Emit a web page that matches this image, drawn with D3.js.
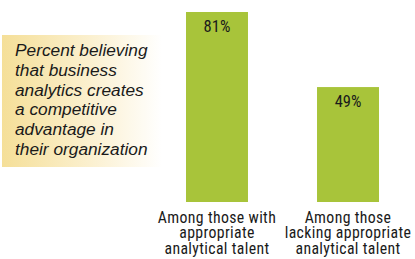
<!DOCTYPE html>
<html><head><meta charset="utf-8">
<script src="https://cdn.jsdelivr.net/npm/d3@7"></script>
<style>
html,body{margin:0;padding:0;background:#fff;}
svg{display:block;}
.cond{font-family:"Liberation Sans Narrow","Roboto Condensed","Arial Narrow",Roboto,sans-serif;font-stretch:condensed;}
</style></head>
<body>
<svg id="c" width="415" height="259"></svg>
<script>
const categories = [["Among those with","appropriate","analytical talent"],["Among those","lacking appropriate","analytical talent"]];
const values = [81, 49];
const valueLabels = ["81%", "49%"];
const titleLines = ["Percent believing","that business","analytics creates","a competitive","advantage in","their organization"];

const svg = d3.select("#c");
const defs = svg.append("defs");
const grad = defs.append("linearGradient").attr("id","g").attr("x1","0").attr("x2","1").attr("y1","0").attr("y2","0");
grad.append("stop").attr("offset","0").attr("stop-color","#f5df98");
grad.append("stop").attr("offset","0.55").attr("stop-color","#fbf0cf");
grad.append("stop").attr("offset","1").attr("stop-color","#ffffff");

svg.append("rect").attr("x",2).attr("y",35).attr("width",160).attr("height",132).attr("fill","url(#g)");
svg.append("g").selectAll("text").data(titleLines).join("text")
  .attr("x",15).attr("y",(d,i)=>56+i*19.8)
  .attr("font-family","Liberation Sans, Arial, sans-serif")
  .attr("font-style","italic").attr("font-size",17.3).attr("fill","#1a1a1a")
  .text(d=>d);

const x = d3.scaleBand().domain([0,1]).range([159.8,405.2]).paddingInner(0.527).paddingOuter(0.2);
const y = d3.scaleLinear().domain([0,81]).range([202,12]);

svg.append("g").selectAll("rect").data(values).join("rect")
  .attr("x",(d,i)=>x(i)).attr("width",x.bandwidth())
  .attr("y",d=>y(d)).attr("height",d=>y(0)-y(d)).attr("fill","#a8c43a");

svg.append("g").selectAll("text").data(values).join("text")
  .attr("class","cond")
  .attr("x",(d,i)=>x(i)+x.bandwidth()/2).attr("y",d=>y(d)+20)
  .attr("text-anchor","middle").attr("font-size",16.5).attr("fill","#1a1a1a")
  .text((d,i)=>valueLabels[i]);

const cg = svg.append("g").selectAll("g").data(categories).join("g");
cg.selectAll("text").data((d,i)=>d.map(t=>({t,i}))).join("text")
  .attr("class","cond")
  .attr("x",d=>x(d.i)+x.bandwidth()/2).attr("y",(d,j)=>222.5+j*15.8)
  .attr("text-anchor","middle").attr("font-size",15.8).attr("letter-spacing",0.35).attr("fill","#1a1a1a")
  .text(d=>d.t);
</script>
</body></html>
